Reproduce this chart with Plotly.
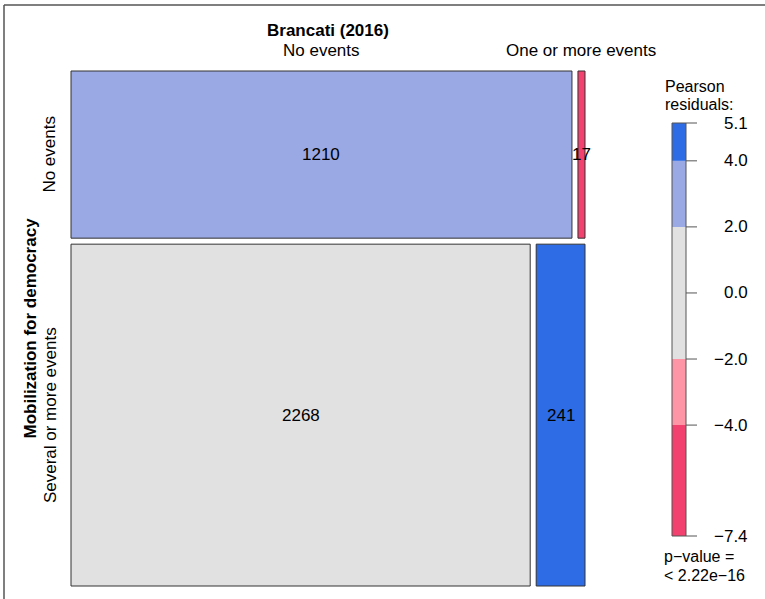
import plotly.graph_objects as go
import numpy as np

# ---- data ----
title = "Brancati (2016)"
row_var = "Mobilization for democracy"
col_labels = ["No events", "One or more events"]
row_labels = ["No events", "Several or more events"]
counts = [[1210, 17], [2268, 241]]
legend_breaks = [-4.0, -2.0, 0.0, 2.0, 4.0]
legend_title_lines = ["Pearson", "residuals:"]
p_value_lines = ["p\u2212value =", "< 2.22e\u221216"]

# ---- styling / geometry (pixel layout) ----
W, H = 765, 599
L, R, T, B = 71, 585, 71, 586
GAP = 6
FONT = "Liberation Sans, Arial, Helvetica, sans-serif"
FS = 17
FS_LEG = 16
EDGE = "#333333"
C_NEG2 = "#F2416F"
C_NEG1 = "#FE95A6"
C_NEU = "#E1E1E1"
C_POS1 = "#9AA9E3"
C_POS2 = "#2E6CE5"

cnt = np.array(counts, dtype=float)
N = cnt.sum()
rt = cnt.sum(axis=1)
ct = cnt.sum(axis=0)
expected = np.outer(rt, ct) / N
resid = (cnt - expected) / np.sqrt(expected)


def color_for(r):
    if r > 4:
        return C_POS2
    if r > 2:
        return C_POS1
    if r < -4:
        return C_NEG2
    if r < -2:
        return C_NEG1
    return C_NEU


fig = go.Figure()
shapes = []
ann = []


def txt(x, y, s, size=FS, **kw):
    d = dict(x=x, y=y, text=s, showarrow=False, xref="x", yref="y", borderpad=0,
             font=dict(size=size, color="black", family=FONT))
    d.update(kw)
    ann.append(d)


avail_h = (B - T) - GAP * (len(rt) - 1)
avail_w = (R - L) - GAP * (cnt.shape[1] - 1)
y0 = T
row_centers = []
top_centers = []
for i in range(cnt.shape[0]):
    h = avail_h * rt[i] / N
    x0 = L
    for j in range(cnt.shape[1]):
        w = avail_w * cnt[i, j] / rt[i]
        shapes.append(dict(type="rect", xref="x", yref="y", x0=x0, x1=x0 + w,
                           y0=y0, y1=y0 + h, fillcolor=color_for(resid[i, j]),
                           line=dict(color=EDGE, width=1)))
        txt(x0 + w / 2, y0 + h / 2, str(counts[i][j]))
        if i == 0:
            top_centers.append(x0 + w / 2)
        x0 += w + GAP
    row_centers.append(y0 + h / 2)
    y0 += h + GAP

# column labels
for j, lab in enumerate(col_labels):
    txt(top_centers[j], 50, lab)
# title
txt((L + R) / 2, 30, "<b>" + title + "</b>")
# row labels
for i, lab in enumerate(row_labels):
    txt(50, row_centers[i], lab, textangle=-90)
txt(30, (T + B) / 2, "<b>" + row_var + "</b>", textangle=-90)

# ---- legend ----
LX0, LX1, LT, LB = 672, 686, 123, 536
rmax, rmin = resid.max(), resid.min()


def ly(v):
    return LT + (rmax - v) / (rmax - rmin) * (LB - LT)


bounds = [rmin] + legend_breaks + [rmax]
seg_cols = [C_NEG2, C_NEG1, C_NEU, C_NEU, C_POS1, C_POS2]
for k in range(len(bounds) - 1):
    shapes.append(dict(type="rect", xref="x", yref="y", x0=LX0, x1=LX1,
                       y0=ly(bounds[k + 1]), y1=ly(bounds[k]),
                       fillcolor=seg_cols[k], line=dict(width=0)))
shapes.append(dict(type="rect", xref="x", yref="y", x0=LX0, x1=LX1, y0=LT, y1=LB,
                   line=dict(color="#555555", width=1)))
for v in bounds:
    yy = ly(v)
    shapes.append(dict(type="line", xref="x", yref="y", x0=LX1, x1=LX1 + 11, y0=yy, y1=yy,
                       line=dict(color="#555555", width=1)))
    txt(749, yy, ("%.1f" % v).replace("-", "\u2212"), xanchor="right")
txt(664, 86, legend_title_lines[0], size=FS_LEG, xanchor="left")
txt(664, 104, legend_title_lines[1], size=FS_LEG, xanchor="left")
txt(663, 556, p_value_lines[0], size=FS_LEG, xanchor="left")
txt(663, 575, p_value_lines[1], size=FS_LEG, xanchor="left")

# outer frame (left and top edges)
shapes.append(dict(type="line", xref="x", yref="y", x0=4, x1=4, y0=5, y1=H,
                   line=dict(color="#555555", width=1.5)))
shapes.append(dict(type="line", xref="x", yref="y", x0=4, x1=W, y0=5, y1=5,
                   line=dict(color="#555555", width=1.5)))

fig.update_layout(
    width=W, height=H, margin=dict(l=0, r=0, t=0, b=0),
    paper_bgcolor="white", plot_bgcolor="white",
    xaxis=dict(range=[0, W], visible=False, fixedrange=True),
    yaxis=dict(range=[H, 0], visible=False, fixedrange=True),
    shapes=shapes, annotations=ann, showlegend=False,
)
fig.write_html("out.html", config={"displayModeBar": False},
               post_script="document.body.style.margin='0';document.body.style.overflow='hidden';")
